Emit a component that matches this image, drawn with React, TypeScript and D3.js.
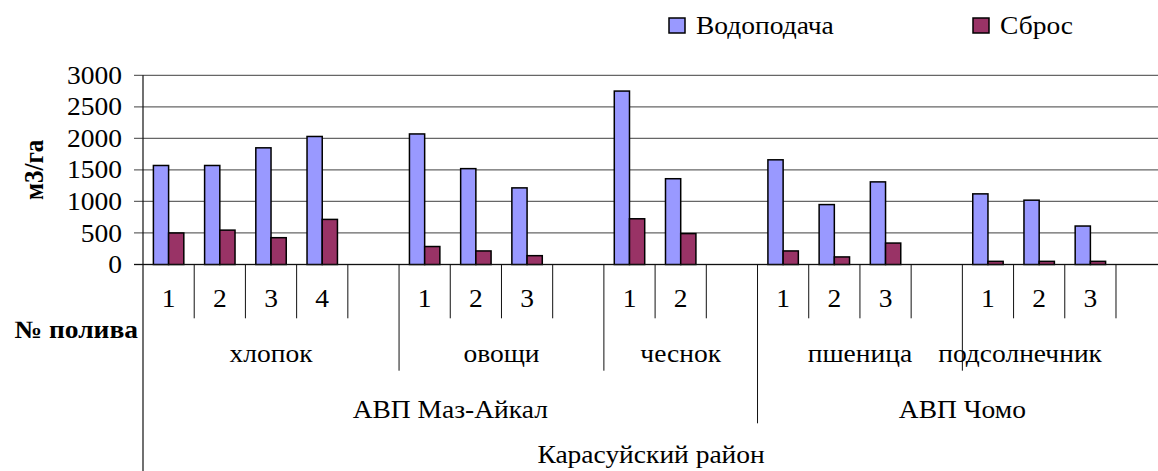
import React from 'react';
import * as d3 from 'd3';

// ---------- data ----------
const crops = ['хлопок', 'овощи', 'чеснок', 'пшеница', 'подсолнечник'];
const irrigationNumbers = [
  ['1', '2', '3', '4', ''],
  ['1', '2', '3', ''],
  ['1', '2', ''],
  ['1', '2', '3', ''],
  ['1', '2', '3', ''],
];
const wuaNames = ['АВП Маз-Айкал', 'АВП Чомо'];
const wuaCropCounts = [3, 2];
const districtName = 'Карасуйский район';
const seriesNames = ['Водоподача', 'Сброс'];
const supply = [1570, 1570, 1850, 2030, null, 2070, 1520, 1215, null, 2750, 1360, null, 1660, 950, 1310, null, 1120, 1020, 610, null];
const discharge = [500, 545, 425, 715, null, 285, 215, 140, null, 725, 490, null, 215, 120, 340, null, 50, 50, 50, null];
const yTicks = [0, 500, 1000, 1500, 2000, 2500, 3000];
const yTitle = 'м3/га';
const xTitle = '№ полива';

// ---------- style ----------
const W = 1158;
const H = 471;
const FONT = "'Liberation Serif'";
const FS = 25;
const SX = 1.1;
const COLORS = ['#9999FF', '#993366'];

function measure(s: string, bold = false) {
  const c = document.createElement('canvas').getContext('2d');
  if (!c) return s.length * 12;
  c.font = `${bold ? 'bold ' : ''}${FS}px 'Liberation Serif'`;
  return c.measureText(s).width * SX;
}

function T({ s, x, y, anchor = 'middle', bold = false }: { s: string; x: number; y: number; anchor?: string; bold?: boolean }) {
  return (
    <text
      transform={`translate(${x},${y}) scale(${SX},1)`}
      textAnchor={anchor as any}
      dominantBaseline="central"
      style={{ fontFamily: FONT, fontSize: FS, fontWeight: bold ? 'bold' : 'normal' }}
      fill="#000"
    >
      {s}
    </text>
  );
}

export default function App() {
  const nSlots = irrigationNumbers.reduce((s, a) => s + a.length, 0);
  const x = d3.scaleBand<number>().domain(d3.range(nSlots)).range([143, 1167.2]).padding(0);
  const y = d3.scaleLinear().domain([0, 3000]).range([264.5, 75.3]);
  const bw = x.bandwidth() * 0.297;
  const xb = (k: number) => (k < nSlots ? (x(k) as number) : 1167.2);

  const cropStarts: number[] = [];
  let k = 0;
  irrigationNumbers.forEach((nums) => { cropStarts.push(k); k += nums.length; });
  cropStarts.push(k);
  const wuaStarts: number[] = [0];
  wuaCropCounts.forEach((c, i) => wuaStarts.push(wuaStarts[i] + c));
  const wuaBoundaries = wuaStarts.slice(1, -1).map((c) => cropStarts[c]);

  const lv = [264.5, 318.3, 370.7, 423.3, H + 5];
  const cropMaxRight = 1102;
  const legX = [669, 973];

  return (
    <svg width={W} height={H} style={{ position: 'absolute', left: 0, top: 0, background: '#fff' }}>
      {/* gridlines */}
      {yTicks.map((t) => (
        <line key={t} x1={134} x2={W} y1={y(t)} y2={y(t)} stroke="#666" strokeWidth={1.3} />
      ))}
      {/* y tick labels */}
      {yTicks.map((t) => (
        <T key={t} s={String(t)} x={122} y={y(t) + 0.5} anchor="end" />
      ))}
      {/* y title */}
      <text
        transform={`translate(34,${(y(0) + y(3000)) / 2}) rotate(-90) scale(1,${SX})`}
        textAnchor="middle"
        dominantBaseline="central"
        style={{ fontFamily: FONT, fontSize: FS, fontWeight: 'bold' }}
      >
        {yTitle}
      </text>

      {/* bars */}
      {[supply, discharge].map((series, si) => (
        <g key={si}>
          {series.map((v, i) =>
            v == null ? null : (
              <rect
                key={i}
                x={(x(i) as number) + x.bandwidth() / 2 - bw + si * bw}
                y={y(v)}
                width={bw}
                height={y(0) - y(v)}
                fill={COLORS[si]}
                stroke="#000"
                strokeWidth={1.5}
              />
            )
          )}
        </g>
      ))}

      {/* axes */}
      <g stroke="#111">
        <line x1={134} x2={W} y1={y(0)} y2={y(0)} strokeWidth={1.2} />
        <line x1={143} x2={143} y1={y(3000)} y2={H + 5} strokeWidth={1.2} />
        {d3.range(1, nSlots).map((i) => {
          const bottom = wuaBoundaries.includes(i) ? lv[3] : cropStarts.includes(i) ? lv[2] : lv[1];
          return <line key={i} x1={xb(i)} x2={xb(i)} y1={lv[0]} y2={bottom} strokeWidth={1} />;
        })}
      </g>

      {/* irrigation numbers */}
      {irrigationNumbers.map((nums, ci) =>
        nums.map((n, j) =>
          n ? <T key={`${ci}-${j}`} s={n} x={(x(cropStarts[ci] + j) as number) + x.bandwidth() / 2} y={299} /> : null
        )
      )}
      {/* crops */}
      {crops.map((c, ci) => {
        let cx = (xb(cropStarts[ci]) + xb(cropStarts[ci + 1])) / 2;
        const w = measure(c);
        if (cx + w / 2 > cropMaxRight) cx = cropMaxRight - w / 2;
        return <T key={c} s={c} x={cx} y={354} />;
      })}
      {/* WUAs */}
      {wuaNames.map((n, wi) => {
        const a = xb(cropStarts[wuaStarts[wi]]);
        const b = xb(cropStarts[wuaStarts[wi + 1]]);
        return <T key={n} s={n} x={(a + b) / 2} y={410} />;
      })}
      {/* district */}
      <T s={districtName} x={(xb(0) + xb(nSlots)) / 2 - 4} y={455} />
      {/* x title */}
      <T s={xTitle} x={138} y={330} anchor="end" bold />

      {/* legend */}
      {seriesNames.map((s, i) => (
        <g key={s}>
          <rect x={legX[i]} y={18} width={16} height={15} fill={COLORS[i]} stroke="#000" strokeWidth={1.5} />
          <T s={s} x={legX[i] + 27} y={25.5} anchor="start" />
        </g>
      ))}
    </svg>
  );
}
